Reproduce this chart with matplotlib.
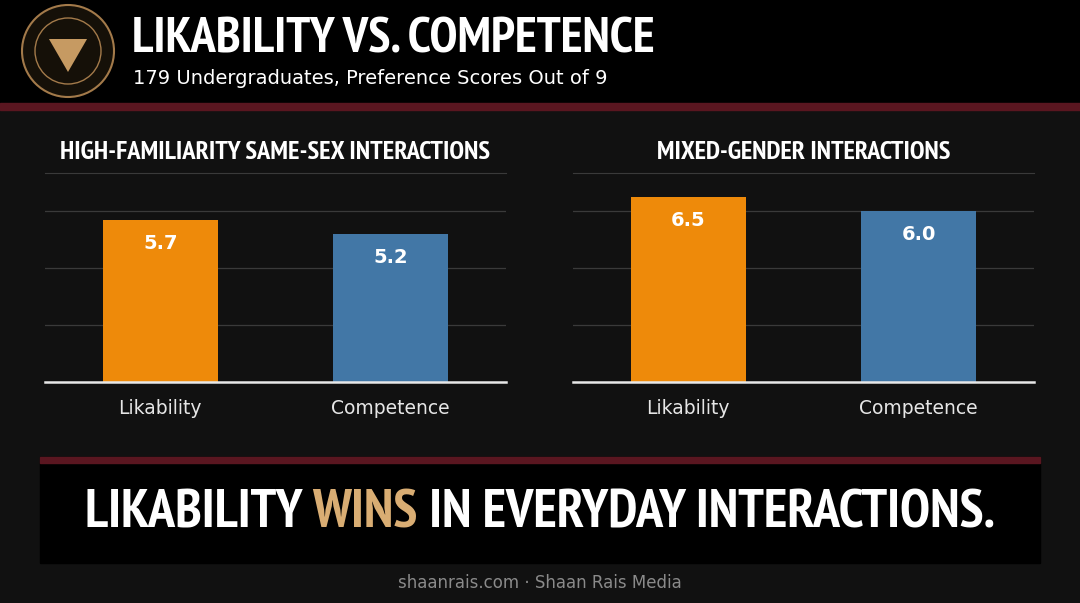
import matplotlib
matplotlib.use('Agg')
import matplotlib.pyplot as plt
from matplotlib import font_manager
from matplotlib.patches import Rectangle, Circle, RegularPolygon

# data
categories = ['Likability', 'Competence']
same_sex = [5.7, 5.2]
mixed_gender = [6.5, 6.0]
panel_titles = ['HIGH-FAMILIARITY SAME-SEX INTERACTIONS', 'MIXED-GENDER INTERACTIONS']
bar_colors = ['#ee8a0a', '#4277a6']

# pick a narrow bold face if one is installed
narrow = None
for f in font_manager.fontManager.ttflist:
    name = f.fname.lower()
    if ('narrow' in name or 'condensed' in name) and 'bold' in name and 'oblique' not in name and 'italic' not in name:
        narrow = f.fname
        if 'narrow' in name:
            break
cond = dict(fontproperties=font_manager.FontProperties(fname=narrow)) if narrow else dict(fontweight='bold')

fig = plt.figure(figsize=(10.8, 6.03), dpi=100)
fig.patch.set_facecolor('#111111')
r = fig.canvas.get_renderer()

def px(x, y):
    return x / 1080, 1 - y / 603

def fit(t, width):
    # scale a text so it spans about `width` pixels
    w = t.get_window_extent(renderer=r).width
    t.set_fontsize(t.get_fontsize() * width / w)
    return t

# header
fig.patches.append(Rectangle((0, 1 - 103/603), 1, 103/603, transform=fig.transFigure, color='black', zorder=0))
fig.patches.append(Rectangle((0, 1 - 110/603), 1, 7/603, transform=fig.transFigure, color='#5a1620', zorder=0))

# logo
fig.patches.append(Circle((68, 603 - 51), 46, transform=None, fc='#151008', ec='#a37a4a', lw=1.5, zorder=1))
fig.patches.append(Circle((68, 603 - 51), 33, transform=None, fc='none', ec='#a37a4a', lw=1, zorder=1))
fig.patches.append(RegularPolygon((68, 603 - 50), 3, radius=22, orientation=3.14159, transform=None, fc='#c69a62', zorder=2))

fit(fig.text(*px(132, 40), 'LIKABILITY VS. COMPETENCE', color='white', fontsize=34, va='center', **cond), 524)
fig.text(*px(133, 79), '179 Undergraduates, Preference Scores Out of 9', color='white', fontsize=14, va='center')

lefts = [45, 573]
title_w = [428, 294]
for i, vals in enumerate([same_sex, mixed_gender]):
    x0, y0 = px(lefts[i], 382)
    ax = fig.add_axes([x0, y0, 461/1080, 209/603])
    ax.set_facecolor('none')
    bars = ax.bar(range(len(categories)), vals, width=0.5, color=bar_colors)
    ax.set_xlim(-0.5, 1.5)
    ax.set_ylim(0, 7.35)
    ax.set_yticks([2, 4, 6])
    ax.yaxis.grid(True, color='#3a3a3a', lw=0.9)
    ax.set_axisbelow(True)
    for s in ['left', 'right']:
        ax.spines[s].set_visible(False)
    ax.spines['top'].set_color('#3a3a3a')
    ax.spines['bottom'].set_color('#e8e8e8')
    ax.spines['bottom'].set_linewidth(1.8)
    ax.tick_params(left=False, labelleft=False, bottom=False)
    ax.set_xticks(range(len(categories)))
    ax.set_xticklabels(categories, color='#e6e6e6', fontsize=13.5)
    ax.tick_params(axis='x', pad=9)
    for b, v in zip(bars, vals):
        ax.annotate(f'{v:.1f}', (b.get_x() + b.get_width()/2, v), xytext=(0, -17),
                    textcoords='offset points', ha='center', va='center',
                    color='white', fontsize=14, fontweight='bold')
    fit(ax.text(0.5, 1.1, panel_titles[i], transform=ax.transAxes, ha='center', va='center',
                color='white', fontsize=16, **cond), title_w[i])

# bottom banner
fig.patches.append(Rectangle(px(40, 563), 1000/1080, 106/603, transform=fig.transFigure, color='black', zorder=0))
fig.patches.append(Rectangle(px(40, 463), 1000/1080, 6/603, transform=fig.transFigure, color='#5a1620', zorder=0))
parts = [('LIKABILITY ', 'white'), ('WINS', '#d9ad73'), (' IN EVERYDAY INTERACTIONS.', 'white')]
texts = [fig.text(0, 0, s, color=c, fontsize=40, va='center', **cond) for s, c in parts]
total = sum(t.get_window_extent(renderer=r).width for t in texts)
x = 85
for t in texts:
    t.set_fontsize(40 * 910 / total)
    t.set_position(px(x, 514))
    x += t.get_window_extent(renderer=r).width

fig.text(*px(540, 583), 'shaanrais.com · Shaan Rais Media', color='#8a8a8a', fontsize=12, ha='center', va='center')

fig.savefig('out.png', dpi=100, facecolor=fig.get_facecolor())
